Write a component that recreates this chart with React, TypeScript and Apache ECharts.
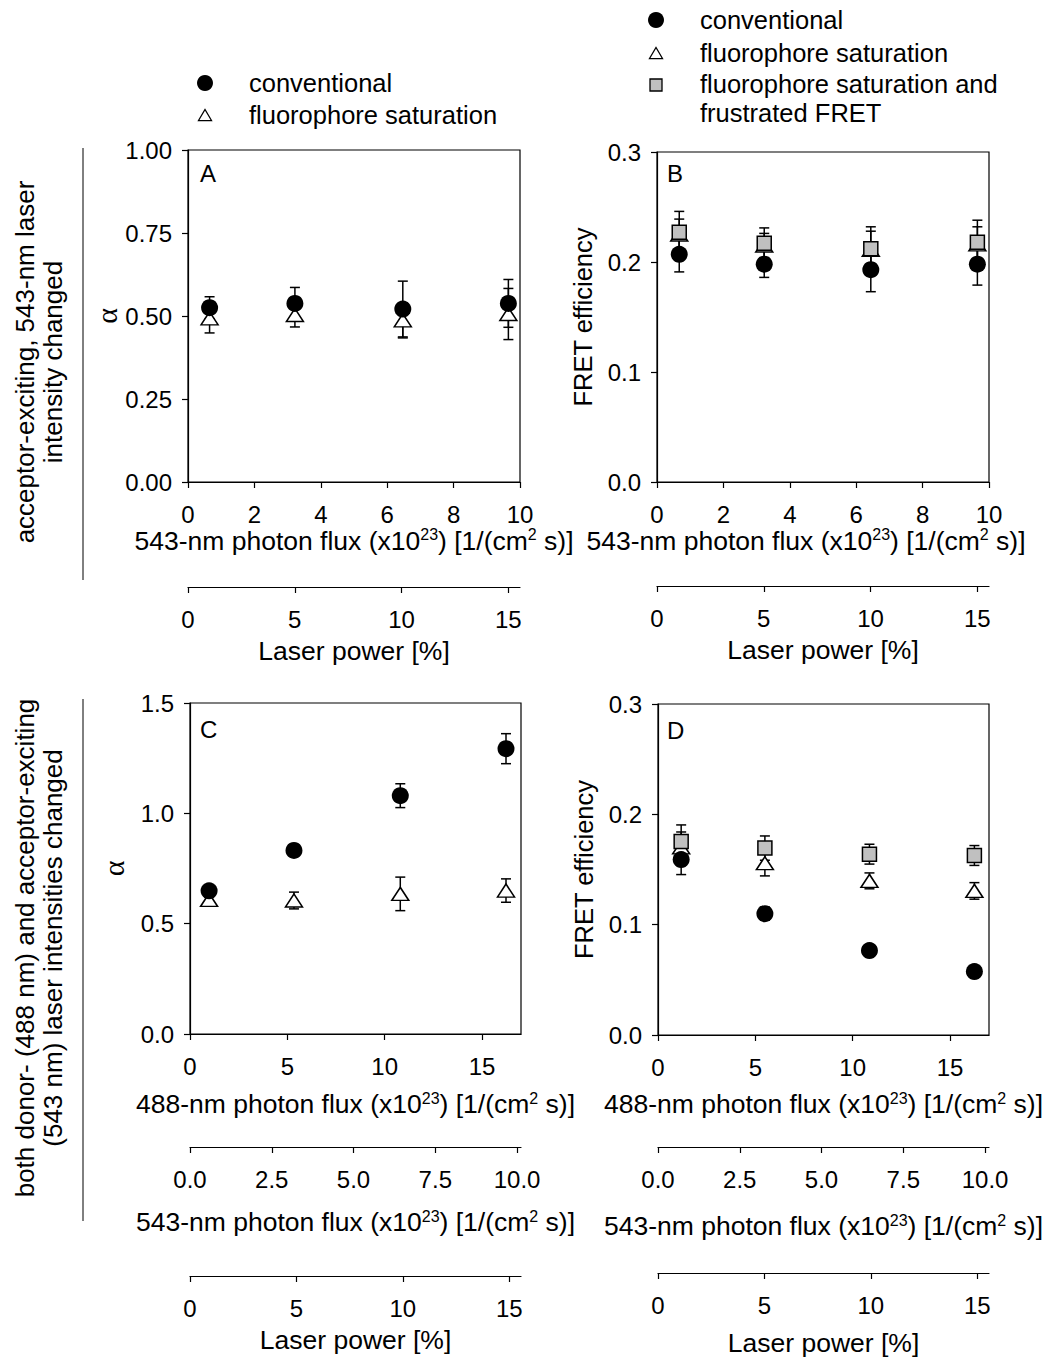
import React, { useEffect, useRef } from "react";
import * as echarts from "echarts";

const FONT = "Liberation Sans";

// ---- Panel A: alpha vs 543-nm photon flux ----
const aFlux = [0.65, 3.22, 6.47, 9.65];
const aConv = [0.525, 0.538, 0.521, 0.538];
const aConvErr = [0.033, 0.048, 0.084, 0.072];
const aSat = [0.493, 0.503, 0.487, 0.506];
const aSatErr = [0.044, 0.036, 0.053, 0.077];

// ---- Panel B: FRET efficiency vs 543-nm photon flux ----
const bFlux = [0.67, 3.23, 6.44, 9.65];
const bConv = [0.207, 0.198, 0.193, 0.198];
const bConvErr = [0.016, 0.012, 0.02, 0.019];
const bSat = [0.225, 0.215, 0.211, 0.216];
const bSatErr = [0.014, 0.011, 0.017, 0.016];
const bFrus = [0.227, 0.217, 0.212, 0.218];
const bFrusErr = [0.019, 0.014, 0.02, 0.02];

// ---- Panel C: alpha vs 488-nm photon flux ----
const cFlux = [0.98, 5.34, 10.8, 16.23];
const cConv = [0.649, 0.832, 1.08, 1.293];
const cConvErr = [0.012, 0.025, 0.054, 0.068];
const cSat = [0.608, 0.605, 0.635, 0.65];
const cSatErr = [0.012, 0.038, 0.076, 0.053];

// ---- Panel D: FRET efficiency vs 488-nm photon flux ----
const dFlux = [1.19, 5.49, 10.86, 16.25];
const dConv = [0.159, 0.11, 0.0765, 0.0575];
const dConvErr = [0.0136, 0.006, 0.002, 0.002];
const dSat = [0.17, 0.1557, 0.1397, 0.1306];
const dSatErr = [0.014, 0.0115, 0.0072, 0.0075];
const dFrus = [0.1754, 0.1694, 0.1639, 0.1627];
const dFrusErr = [0.015, 0.011, 0.009, 0.009];

// ---- tick values ----
const ticksFlux10 = [0, 2, 4, 6, 8, 10];
const ticksFlux17 = [0, 5, 10, 15];
const ticks543 = [0, 2.5, 5, 7.5, 10];
const ticksLaser = [0, 5, 10, 15];

const LEGEND_LEFT = ["conventional", "fluorophore saturation"];
const LEGEND_RIGHT = ["conventional", "fluorophore saturation", "fluorophore saturation and", "frustrated FRET"];

const FLUX543 = "543-nm photon flux (x10{s|23}) [1/(cm{s|2} s)]";
const FLUX488 = "488-nm photon flux (x10{s|23}) [1/(cm{s|2} s)]";
const LASER = "Laser power [%]";

const nameStyle = {
  fontFamily: FONT,
  fontSize: 26.5,
  color: "#000",
  lineHeight: 28,
  rich: { s: { fontFamily: FONT, fontSize: 16, color: "#000", verticalAlign: "top", lineHeight: 15 } },
};

function xAx(
  grid: number,
  max: number,
  ticks: number[],
  fmt: (v: number) => string,
  offset: number,
  name: string,
  nameGap: number,
  shiftLeft = 0
) {
  return {
    type: "value",
    gridIndex: grid,
    position: "bottom",
    offset,
    min: 0,
    max,
    axisLine: { show: true, onZero: false, lineStyle: { color: "#000", width: 1.2 } },
    axisTick: { show: true, length: 6, customValues: ticks, lineStyle: { color: "#000", width: 1.2 } },
    axisLabel: { customValues: ticks, formatter: fmt, margin: 20, fontSize: 24, fontFamily: FONT, color: "#000" },
    splitLine: { show: false },
    name,
    nameLocation: "middle",
    nameGap,
    nameTextStyle: shiftLeft ? { ...nameStyle, padding: [0, shiftLeft * 2, 0, 0] } : nameStyle,
  };
}

function yAx(grid: number, max: number, interval: number, digits: number, name: string, nameGap: number, serif: boolean) {
  return {
    type: "value",
    gridIndex: grid,
    min: 0,
    max,
    interval,
    axisLine: { show: true, onZero: false, lineStyle: { color: "#000", width: 1.2 } },
    axisTick: { show: true, length: 6, lineStyle: { color: "#000", width: 1.2 } },
    axisLabel: { formatter: (v: number) => v.toFixed(digits), margin: 16, fontSize: 24, fontFamily: FONT, color: "#000" },
    splitLine: { show: false },
    name,
    nameLocation: "middle",
    nameGap,
    nameRotate: 90,
    nameTextStyle: serif
      ? { fontFamily: "Liberation Serif", fontSize: 30, color: "#000" }
      : { fontFamily: FONT, fontSize: 25.5, color: "#000" },
  };
}

const int = (v: number) => String(v);
const one = (v: number) => v.toFixed(1);

function errSeries(axis: number, xs: number[], ys: number[], es: number[]) {
  return {
    type: "custom",
    xAxisIndex: axis === 0 ? 0 : axis === 1 ? 2 : axis === 2 ? 4 : 7,
    yAxisIndex: axis,
    z: 2,
    silent: true,
    clip: false,
    encode: { x: 0, y: 1 },
    data: xs.map((x, i) => [x, ys[i], es[i]]),
    renderItem: (params: any, api: any) => {
      const x = api.value(0);
      const y = api.value(1);
      const e = api.value(2);
      const t = api.coord([x, y + e]);
      const b = api.coord([x, y - e]);
      const hw = 5;
      const st = { stroke: "#000", lineWidth: 1.5 };
      return {
        type: "group",
        children: [
          { type: "line", shape: { x1: t[0], y1: t[1], x2: b[0], y2: b[1] }, style: st },
          { type: "line", shape: { x1: t[0] - hw, y1: t[1], x2: t[0] + hw, y2: t[1] }, style: st },
          { type: "line", shape: { x1: b[0] - hw, y1: b[1], x2: b[0] + hw, y2: b[1] }, style: st },
        ],
      };
    },
  };
}

function markSeries(axis: number, name: string, xs: number[], ys: number[], kind: string) {
  const base: any = {
    type: "scatter",
    name,
    xAxisIndex: axis === 0 ? 0 : axis === 1 ? 2 : axis === 2 ? 4 : 7,
    yAxisIndex: axis,
    silent: true,
    data: xs.map((x, i) => [x, ys[i]]),
  };
  if (kind === "circle") {
    return { ...base, z: 5, symbol: "circle", symbolSize: 17, itemStyle: { color: "#000", opacity: 1 } };
  }
  if (kind === "triangle") {
    return {
      ...base,
      z: 3,
      symbol: "triangle",
      symbolSize: [17, 13],
      itemStyle: { color: "#fff", borderColor: "#000", borderWidth: 1.5, opacity: 1 },
    };
  }
  return {
    ...base,
    z: 4,
    symbol: "rect",
    symbolSize: 14,
    itemStyle: { color: "#c0c0c0", borderColor: "#000", borderWidth: 1.5, opacity: 1 },
  };
}

function txt(x: number, y: number, text: string, extra: any = {}) {
  return {
    type: "text",
    x,
    y,
    style: {
      text,
      fontFamily: FONT,
      fontSize: 25.5,
      fill: "#000",
      align: "left",
      verticalAlign: "middle",
      ...extra,
    },
  };
}

function triangleShape(cx: number, cy: number, s: number) {
  return {
    type: "polygon",
    shape: { points: [[cx - s, cy + s * 0.85], [cx + s, cy + s * 0.85], [cx, cy - s * 0.85]] },
    style: { fill: "#fff", stroke: "#000", lineWidth: 1.3 },
  };
}

const option: any = {
  animation: false,
  backgroundColor: "#fff",
  grid: [
    { left: 188, top: 150, width: 332, height: 332 },
    { left: 657, top: 152, width: 332, height: 330 },
    { left: 190, top: 703, width: 331, height: 331 },
    { left: 658, top: 704, width: 331, height: 331 },
  ].map((g) => ({
    ...g,
    show: true,
    borderColor: "#000",
    borderWidth: 1.2,
    backgroundColor: "transparent",
    containLabel: false,
    outerBoundsMode: "none",
  })),
  xAxis: [
    xAx(0, 10, ticksFlux10, int, 0, FLUX543, 44),
    xAx(0, 15.55, ticksLaser, int, 105, LASER, 50),
    xAx(1, 10, ticksFlux10, int, 0, FLUX543, 42, 17),
    xAx(1, 15.55, ticksLaser, int, 104, LASER, 50),
    xAx(2, 17, ticksFlux17, int, 0, FLUX488, 56),
    xAx(2, 10.12, ticks543, one, 113, FLUX543, 61),
    xAx(2, 15.55, ticksLaser, int, 242, LASER, 50),
    xAx(3, 17, ticksFlux17, int, 0, FLUX488, 55),
    xAx(3, 10.12, ticks543, one, 112, FLUX543, 65),
    xAx(3, 15.55, ticksLaser, int, 238, LASER, 56),
  ],
  yAxis: [
    yAx(0, 1, 0.25, 2, "α", 62, true),
    yAx(1, 0.3, 0.1, 1, "FRET efficiency", 61, false),
    yAx(2, 1.5, 0.5, 1, "α", 62, true),
    yAx(3, 0.3, 0.1, 1, "FRET efficiency", 61, false),
  ],
  series: [
    errSeries(0, aFlux, aSat, aSatErr),
    errSeries(0, aFlux, aConv, aConvErr),
    markSeries(0, "A fluorophore saturation", aFlux, aSat, "triangle"),
    markSeries(0, "A conventional", aFlux, aConv, "circle"),

    errSeries(1, bFlux, bSat, bSatErr),
    errSeries(1, bFlux, bFrus, bFrusErr),
    errSeries(1, bFlux, bConv, bConvErr),
    markSeries(1, "B fluorophore saturation", bFlux, bSat, "triangle"),
    markSeries(1, "B saturation and frustrated FRET", bFlux, bFrus, "square"),
    markSeries(1, "B conventional", bFlux, bConv, "circle"),

    errSeries(2, cFlux, cSat, cSatErr),
    errSeries(2, cFlux, cConv, cConvErr),
    markSeries(2, "C fluorophore saturation", cFlux, cSat, "triangle"),
    markSeries(2, "C conventional", cFlux, cConv, "circle"),

    errSeries(3, dFlux, dSat, dSatErr),
    errSeries(3, dFlux, dFrus, dFrusErr),
    errSeries(3, dFlux, dConv, dConvErr),
    markSeries(3, "D fluorophore saturation", dFlux, dSat, "triangle"),
    markSeries(3, "D saturation and frustrated FRET", dFlux, dFrus, "square"),
    markSeries(3, "D conventional", dFlux, dConv, "circle"),
  ],
  graphic: [
    // left legend
    { type: "circle", shape: { cx: 205, cy: 83, r: 8 }, style: { fill: "#000" } },
    triangleShape(205, 115, 6.5),
    txt(249, 83, LEGEND_LEFT[0]),
    txt(249, 115, LEGEND_LEFT[1]),
    // right legend
    { type: "circle", shape: { cx: 656, cy: 20, r: 8 }, style: { fill: "#000" } },
    triangleShape(656, 53, 6.5),
    { type: "rect", shape: { x: 650, y: 79, width: 12, height: 12 }, style: { fill: "#c0c0c0", stroke: "#000", lineWidth: 1.3 } },
    txt(700, 20, LEGEND_RIGHT[0]),
    txt(700, 53, LEGEND_RIGHT[1]),
    txt(700, 84, LEGEND_RIGHT[2]),
    txt(700, 113, LEGEND_RIGHT[3]),
    // panel letters
    txt(200, 173, "A", { fontSize: 24 }),
    txt(667, 173, "B", { fontSize: 24 }),
    txt(200, 729, "C", { fontSize: 24 }),
    txt(667, 730, "D", { fontSize: 24 }),
    // side labels
    {
      type: "text",
      x: 39,
      y: 362,
      rotation: Math.PI / 2,
      style: {
        text: "acceptor-exciting, 543-nm laser\nintensity changed",
        fontFamily: FONT,
        fontSize: 26,
        lineHeight: 28,
        fill: "#000",
        align: "center",
        verticalAlign: "middle",
      },
    },
    {
      type: "text",
      x: 39,
      y: 948,
      rotation: Math.PI / 2,
      style: {
        text: "both donor- (488 nm) and acceptor-exciting\n(543 nm) laser intensities changed",
        fontFamily: FONT,
        fontSize: 26,
        lineHeight: 28,
        fill: "#000",
        align: "center",
        verticalAlign: "middle",
      },
    },
    { type: "line", shape: { x1: 83, y1: 148, x2: 83, y2: 580 }, style: { stroke: "#000", lineWidth: 1 } },
    { type: "line", shape: { x1: 83, y1: 699, x2: 83, y2: 1221 }, style: { stroke: "#000", lineWidth: 1 } },
  ],
};

export default function App() {
  const ref = useRef<HTMLDivElement>(null);
  useEffect(() => {
    const chart = echarts.init(ref.current as HTMLDivElement, null, { renderer: "svg" });
    chart.setOption(option);
    return () => chart.dispose();
  }, []);
  return (
    <div
      ref={ref}
      style={{ position: "absolute", left: 0, top: 0, width: 1046, height: 1357, background: "#fff" }}
    />
  );
}
